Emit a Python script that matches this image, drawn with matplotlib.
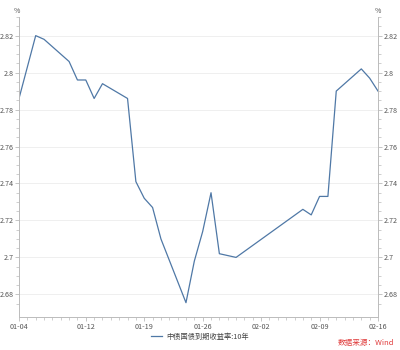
import matplotlib
matplotlib.use("Agg")
import matplotlib.pyplot as plt
import matplotlib.dates as mdates
import numpy as np
import pandas as pd

plt.rcParams['font.family'] = ['Noto Sans CJK SC', 'DejaVu Sans']

dates = ['2022-01-04', '2022-01-05', '2022-01-06', '2022-01-07', '2022-01-10',
         '2022-01-11', '2022-01-12', '2022-01-13', '2022-01-14', '2022-01-17',
         '2022-01-18', '2022-01-19', '2022-01-20', '2022-01-21', '2022-01-24',
         '2022-01-25', '2022-01-26', '2022-01-27', '2022-01-28', '2022-01-29',
         '2022-01-30', '2022-02-07', '2022-02-08', '2022-02-09', '2022-02-10',
         '2022-02-11', '2022-02-14', '2022-02-15', '2022-02-16']
yields = [2.786, 2.803, 2.820, 2.818, 2.806,
          2.796, 2.796, 2.786, 2.794, 2.786,
          2.741, 2.732, 2.727, 2.710, 2.6755,
          2.698, 2.714, 2.735, 2.702, 2.701,
          2.700, 2.726, 2.723, 2.733, 2.733,
          2.790, 2.802, 2.797, 2.790]
tick_dates = ['2022-01-04', '2022-01-12', '2022-01-19', '2022-01-26',
              '2022-02-02', '2022-02-09', '2022-02-16']
series_name = '中债国债到期收益率:10年'
source = '数据来源：Wind'

x = pd.to_datetime(dates)
xt = pd.to_datetime(tick_dates)

fig = plt.figure(figsize=(4, 3.5), dpi=100)
ax = fig.add_axes([0.0475, 0.094, 0.8975, 0.857])

line_col = '#4f78a6'
ax.plot(x, yields, color=line_col, lw=0.9, label=series_name)

ax.set_xlim(xt[0], xt[-1])
ax.set_ylim(2.6677, 2.8282)

yt = [2.68, 2.70, 2.72, 2.74, 2.76, 2.78, 2.80, 2.82]
ax.set_yticks(yt)
ax.set_yticklabels(['2.68', '2.7', '2.72', '2.74', '2.76', '2.78', '2.8', '2.82'])
ax.set_yticks(np.arange(2.675, 2.83, 0.005), minor=True)
ax.set_xticks(xt)
ax.xaxis.set_major_formatter(mdates.DateFormatter('%m-%d'))
ax.xaxis.set_minor_locator(mdates.DayLocator())

ax.grid(axis='y', color='#ececec', lw=0.6)
ax.set_axisbelow(True)

for s in ['left', 'right', 'bottom']:
    ax.spines[s].set_color('#bbbbbb')
    ax.spines[s].set_linewidth(0.7)
ax.spines['top'].set_visible(False)

ax.tick_params(axis='y', which='both', left=True, right=True, labelleft=True,
               labelright=True, direction='out', colors='#bbbbbb',
               labelcolor='#555555', labelsize=5.2, pad=1)
ax.tick_params(axis='y', which='major', length=3, width=0.6)
ax.tick_params(axis='y', which='minor', length=2, width=0.5)
ax.tick_params(axis='x', which='both', direction='out', colors='#bbbbbb',
               labelcolor='#555555', labelsize=5.2, pad=1.5)
ax.tick_params(axis='x', which='major', length=3, width=0.6)
ax.tick_params(axis='x', which='minor', length=2, width=0.5)

fig.text(17 / 400, 1 - 11 / 350, '%', fontsize=5, color='#555555', ha='center', va='center')
fig.text(378 / 400, 1 - 11 / 350, '%', fontsize=5, color='#555555', ha='center', va='center')

fig.legend(loc='center', bbox_to_anchor=(200 / 400, 1 - 337 / 350), frameon=False,
           fontsize=5.2, handlelength=1.6, handletextpad=0.6, labelcolor='#444444',
           borderpad=0.1)

fig.text(394 / 400, 1 - 343 / 350, source, fontsize=5.5, color='#e03c3c', ha='right', va='center')

fig.savefig('out.png', dpi=100)
